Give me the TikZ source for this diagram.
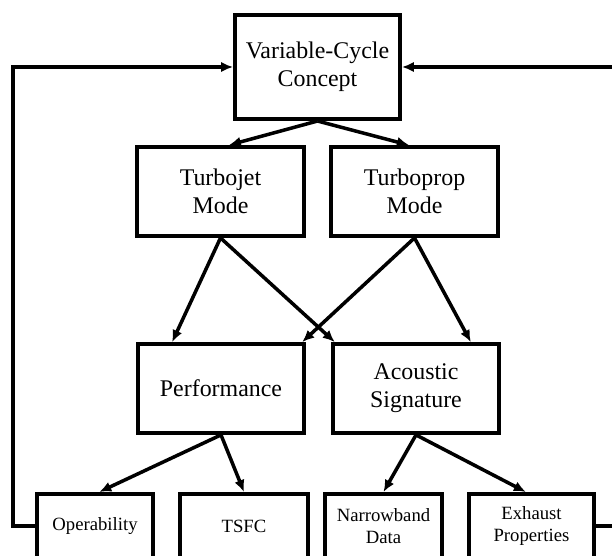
\documentclass[tikz,border=0pt]{standalone}
\usepackage{fontspec}
\setmainfont{Liberation Serif}
\usetikzlibrary{arrows.meta}

\begin{document}
\begin{tikzpicture}[x=0.025cm,y=-0.025cm,
    box/.style={draw,line width=0.1cm,align=center,inner sep=2pt,
        minimum width=4.17cm,minimum height=2.22cm,
        font=\fontsize{17}{20}\selectfont},
    smallbox/.style={box,minimum height=1.6cm,
        font=\fontsize{13.3}{15.6}\selectfont},
    link/.style={line width=2.5pt,-{Latex[length=3mm,width=2.6mm]}}]
\useasboundingbox (0,0) rectangle (612,556);
\clip (0,0) rectangle (612,556);
\node[box,minimum width=4.12cm,minimum height=2.6cm] (vc) at (317.5,67)
    {Variable-Cycle\\Concept};
% modes
\path (220.5,191.5) node[box] (tj) {Turbojet\\Mode}
   +(194,0) node[box] (tp) {Turboprop\\Mode};
% what is judged
\path (221,388.5) node[box] (perf) {Performance}
   +(195,0) node[box] (acou) {Acoustic\\Signature};
\path (95,526) node[smallbox,minimum width=2.9cm] (op) {Operability}
   +(149,0) node[smallbox,minimum width=3.2cm] (tsfc) {TSFC}
   +(288.5,0) node[smallbox,minimum width=2.925cm] (nb) {Narrowband\\Data}
   +(436.5,0) node[smallbox,minimum width=3.125cm] (ex) {Exhaust\\Properties};
\draw[link] (vc.south) -- ([xshift=6]tj.north);
\draw[link] (vc.south) -- ([xshift=-4]tp.north);
\draw[link] (tj.south) -- ([xshift=26]perf.north west);
\draw[link] (tj.south) -- ([xshift=3]acou.north west);
\draw[link] (tp.south) -- ([xshift=-3]perf.north east);
\draw[link] (tp.south) -- ([xshift=39]acou.north);
\draw[link] (perf.south) -- ([xshift=3]op.north);
\draw[link] (perf.south) -- (tsfc.north);
\draw[link] (acou.south) -- (nb.north);
\draw[link] (acou.south) -- ([xshift=-4]ex.north);
% feedback
\draw[link] (op.west) -- ++(-22,0) |- (vc.west);
\draw[link] (ex.east) -- ++(40,0) |- (vc.east);
\end{tikzpicture}
\end{document}
